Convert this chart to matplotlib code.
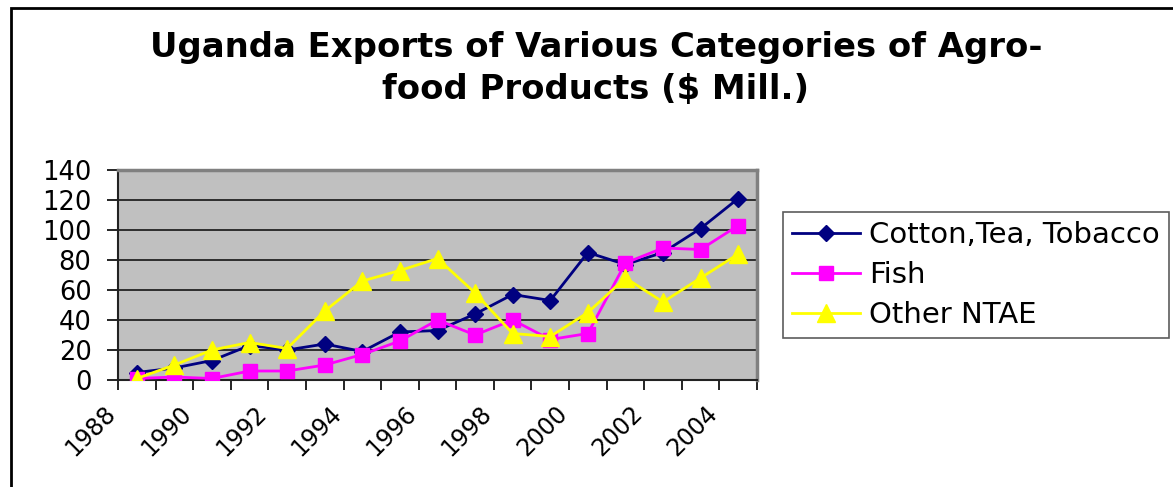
import matplotlib
matplotlib.use("Agg")
import matplotlib.pyplot as plt
from matplotlib.patches import Rectangle
from matplotlib.transforms import ScaledTranslation

# Data ($ Mill.)
years = list(range(1988, 2005))
cotton_tea_tobacco = [5, 8, 13, 23, 20, 24, 19, 32, 33, 44, 57, 53, 85, 77, 85, 101, 121]
fish = [1, 2, 1, 6, 6, 10, 17, 26, 40, 30, 40, 27, 31, 78, 88, 87, 103]
other_ntae = [1, 10, 20, 25, 21, 46, 66, 73, 81, 58, 31, 29, 45, 68, 52, 68, 84]
labels = ["Cotton,Tea, Tobacco", "Fish", "Other NTAE"]

plt.rcParams['font.family'] = ['DejaVu Sans']

W, H = 1173, 487
fig = plt.figure(figsize=(W / 100, H / 100), dpi=100)

# outer chart frame (only left and top edges visible in the crop)
fig.add_artist(Rectangle((11 / W, -0.1), 1.2, 1.1 - 8 / H, transform=fig.transFigure,
                         fill=False, edgecolor='black', linewidth=2))

# title
fig.text(596 / W, 1 - 47 / H, "Uganda Exports of Various Categories of Agro-",
         ha='center', va='center', fontsize=24.4, fontweight='bold')
fig.text(596 / W, 1 - 90 / H, "food Products ($ Mill.)",
         ha='center', va='center', fontsize=24.4, fontweight='bold')

ax = fig.add_axes([118 / W, 1 - 380 / H, (757 - 118) / W, 210 / H])
ax.set_facecolor('#C0C0C0')

x = list(range(len(years)))
ax.plot(x, cotton_tea_tobacco, color='#000080', lw=2, marker='D', ms=8.5,
        mfc='#000080', mec='#000080', label=labels[0], zorder=3)
ax.plot(x, fish, color='#FF00FF', lw=2, marker='s', ms=10,
        mfc='#FF00FF', mec='#FF00FF', label=labels[1], zorder=4)
ax.plot(x, other_ntae, color='#FFFF00', lw=2, marker='^', ms=13,
        mfc='#FFFF00', mec='#FFFF00', label=labels[2], zorder=5)

ax.set_xlim(-0.5, len(years) - 0.5)
ax.set_ylim(0, 140)
ax.set_yticks(range(0, 141, 20))
ax.tick_params(axis='y', labelsize=18.5, length=8, width=1.2, direction='out', pad=11)
ax.yaxis.grid(True, color='#222222', lw=1.3)
ax.set_axisbelow(True)

# category boundaries get the tick marks, labels every other year
ax.set_xticks([i - 0.5 for i in range(len(years) + 1)])
ax.set_xticklabels([])
ax.tick_params(axis='x', length=7, width=1.2, direction='out')
off = ScaledTranslation(-0.33, -0.21, fig.dpi_scale_trans)
for i, yr in enumerate(years):
    if i % 2 == 0:
        ax.text(i, 0, str(yr), rotation=45, rotation_mode='anchor', ha='right', va='top',
                fontsize=17, transform=ax.transData + off)

for s in ['top', 'right']:
    ax.spines[s].set_color('#808080')
    ax.spines[s].set_linewidth(2.5)
for s in ['left', 'bottom']:
    ax.spines[s].set_color('#222222')
    ax.spines[s].set_linewidth(1.5)

leg = fig.legend(loc='upper left', bbox_to_anchor=(783 / W, 1 - 212 / H),
                 fontsize=21, frameon=True, fancybox=False, shadow=False,
                 handlelength=2.35, handletextpad=0.3, labelspacing=0.42,
                 borderpad=0.3, borderaxespad=0)
leg.get_frame().set_edgecolor('#333333')
leg.get_frame().set_linewidth(1.2)

fig.savefig("out.png", dpi=100)
